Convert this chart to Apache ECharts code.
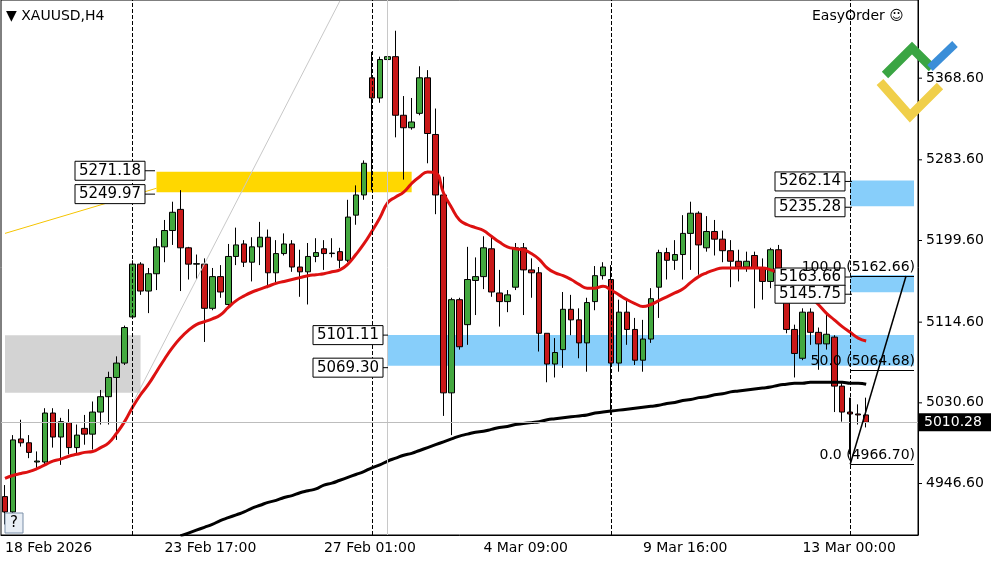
<!DOCTYPE html>
<html><head><meta charset="utf-8">
<script src="https://cdn.jsdelivr.net/npm/echarts@6/dist/echarts.min.js"></script>
<style>html,body{margin:0;padding:0;background:#fff}#c{width:1000px;height:562px}</style>
</head><body><div id="c"></div>
<script>
const opens=[4933,4917,4993,4989,4969,4969,5020,4995,5010,4984,5004,4998,5021,5037,5057,5072,5120,5175,5147,5165,5193,5210,5232,5192,5175,5175,5129,5162,5133,5183,5196,5177,5193,5203,5166,5186,5196,5172,5167,5183,5191,5186,5188,5179,5226,5247,5369,5348,5388,5391,5330,5317,5332,5369,5310,5247,5041,5138,5112,5158,5162,5191,5145,5136,5151,5192,5169,5166,5103,5071,5086,5128,5117,5093,5136,5163,5159,5072,5125,5107,5075,5097,5151,5187,5179,5185,5207,5228,5192,5209,5201,5189,5178,5172,5184,5171,5157,5190,5153,5107,5077,5125,5104,5092,5099,5048,5021,5019,5018];
const closes=[4917,4992,4989,4979,4970,5020,4995,5011,4984,4997,4998,5021,5037,5057,5072,5109,5175,5147,5165,5193,5210,5229,5192,5175,5175.5,5129,5162,5146,5183,5195,5177,5193,5203,5166,5186,5196,5172,5167,5183,5187,5186,5186.5,5179,5224,5247,5280,5348,5388,5391,5330,5317,5323,5369,5311,5247,5041,5138,5089,5159,5162,5192,5146,5136,5143,5192,5169,5166,5103,5071,5083,5128,5117,5093,5135,5163,5172,5072,5125,5107,5075,5097,5139,5187,5179,5185,5207,5228,5195,5209,5201,5189,5178,5172,5178,5171,5157,5190,5153,5107,5082,5125,5104,5092,5102,5048,5021,5019,5018,5010.28];
const highs=[4945,4997,5013,4997,4980,5025,5025,5015,5024,5008,5018,5032,5044,5063,5079,5111,5179,5177,5171,5202,5221,5240,5252,5193,5185,5181,5171,5174,5196,5213,5200,5203,5219,5211,5200,5207,5200,5190,5197,5202,5200,5202,5192,5242,5257,5283,5396,5391,5421,5418,5350,5348,5381,5377,5337,5266,5140,5140,5193,5182,5204,5204,5169,5148,5197,5197,5181,5172,5103,5098,5146,5143,5129,5140,5173,5177,5174,5138,5138,5119,5117,5150,5190,5192,5200,5226,5240,5230,5225,5221,5210,5200,5190,5188,5188,5181,5192,5195,5153,5112,5129,5129,5109,5122,5101,5051,5036,5029,5036];
const lows=[4904,4914,4985,4973,4961,4966,4984,4966,4977,4977,4987,4982,5008,5008,4992,5070,5119,5143,5124,5148,5177,5195,5147,5159,5159,5094,5127,5140,5129,5174,5172,5157,5174,5150,5156,5184,5167,5141,5133,5177,5169,5182,5171,5177,5216,5242,5252,5343,5379,5307,5263,5315,5330,5280,5227,5017,4997,5086,5091,5122,5149,5141,5110,5125,5148,5122,5140,5084,5052,5057,5067,5101,5077,5063,5127,5159,5018,5063,5091,5070,5063,5093,5119,5159,5169,5159,5169,5164,5188,5184,5177,5151,5157,5167,5129,5138,5150,5143,5103,5057,5075,5091,5065,5086,5021,5011,4977,5008,5005];
const emaRed=[4952,4955,4957,4959,4962,4966,4970,4972,4975,4977,4979,4980,4984,4989,4999,5011,5026,5039,5050,5063,5076,5088,5098,5106,5112,5115,5118,5122,5130,5137,5142,5146,5149,5152,5155,5157,5159,5161,5163,5164,5165,5167,5169,5175,5185,5196,5209,5223,5239,5245,5250,5259,5266,5271,5270,5249,5234,5221,5216,5213,5210,5204,5198,5193,5191,5190,5186,5180,5171,5166,5163,5159,5154,5150,5150,5152,5148,5143,5138,5134,5131,5133,5137,5141,5145,5149,5156,5162,5166,5169,5171,5171,5171,5171,5171,5171,5169,5166,5161,5154,5147,5141,5133,5124,5117,5110,5104,5098,5095];
const maBlackVis=[4892,4895,4898,4901,4904,4908,4911,4914,4917,4921,4924,4927,4929,4932,4934,4937,4939,4941,4945,4947,4950,4953,4956,4959,4963,4966,4970,4973,4976,4978,4981,4984,4987,4990,4993,4996,4998,5000,5001,5003,5005,5006,5008,5009,5010,5011,5013,5014,5015,5016,5017,5018,5020,5021,5022,5023,5024,5025,5026,5027,5028,5030,5031,5033,5034,5036,5037,5039,5040,5042,5043,5044,5045,5046,5047,5049,5050,5051,5051,5052,5052,5052,5052,5052,5051,5051,5050];
const maBlackStart=22;
const slotCount=115;
const tickLabelIdx=[0,20,40,60,80,100];
const tickLabelText=['18 Feb 2026','23 Feb 17:00','27 Feb 01:00','4 Mar 09:00','9 Mar 16:00','13 Mar 00:00'];
const yTicks=[5368.60,5283.60,5199.60,5114.60,5030.60,4946.60];
const lastPrice=5010.28;
const yellowZone=[5249.97,5271.18], grayZone=[5041,5101], blueZone1=[5069.30,5101.11], blueZone2=[5235.28,5262.14], blueZone3=[5145.75,5163.66];
const fibLow=4966.70, fibMid=5064.68, fibHigh=5162.66;

const cats=[];for(let i=0;i<slotCount;i++){const k=tickLabelIdx.indexOf(i);cats.push(k>=0?tickLabelText[k]:'');}
const candle=opens.map((o,i)=>[o,closes[i],lows[i],highs[i]]);
const black=new Array(slotCount).fill(null);maBlackVis.forEach((v,k)=>black[maBlackStart+k]=v);
const red=emaRed.slice();
const FONT='DejaVu Sans';
const chart=echarts.init(document.getElementById('c'));
const thin=(c,t,w)=>({lineStyle:{color:c,type:t,width:w}});
chart.setOption({
 animation:false,
 grid:{left:1,right:82,top:0,bottom:27,show:true,borderColor:'#000',borderWidth:1},
 xAxis:{type:'category',data:cats,boundaryGap:true,axisLine:{lineStyle:{color:'#000'}},axisTick:{show:false},
   axisLabel:{interval:0,align:'left',color:'#000',fontFamily:FONT,fontSize:14,margin:6,formatter:v=>v}},
 yAxis:{type:'value',position:'right',min:4893,max:5450,splitLine:{show:false},axisLine:{show:true,lineStyle:{color:'#000'}},axisLabel:{show:false},axisTick:{show:false}},
 series:[
  {type:'candlestick',data:candle,barWidth:6,itemStyle:{color:'#43a83f',color0:'#c81818',borderColor:'#000',borderColor0:'#000',borderWidth:1},
   markArea:{silent:true,data:[
     [{xAxis:19,yAxis:yellowZone[0],itemStyle:{color:'#ffd700',opacity:1}},{xAxis:51,yAxis:yellowZone[1]}],
     [{xAxis:0,yAxis:grayZone[0],itemStyle:{color:'#d3d3d3',opacity:1}},{xAxis:17,yAxis:grayZone[1]}],
     [{xAxis:48,yAxis:blueZone1[0],itemStyle:{color:'#87cefa',opacity:1}},{xAxis:114,yAxis:blueZone1[1]}],
     [{xAxis:106,yAxis:blueZone2[0],itemStyle:{color:'#87cefa',opacity:1}},{xAxis:114,yAxis:blueZone2[1]}],
     [{xAxis:106,yAxis:blueZone3[0],itemStyle:{color:'#87cefa',opacity:1}},{xAxis:114,yAxis:blueZone3[1]}]
   ]},z:3},
  {type:'line',data:red,showSymbol:false,smooth:true,lineStyle:{color:'#dd1111',width:3},z:4},
  {type:'line',data:black,showSymbol:false,smooth:true,lineStyle:{color:'#000',width:3},z:4,
   markLine:{silent:true,symbol:'none',label:{show:false},data:[
     {xAxis:16,...thin('#000','dashed',1)},{xAxis:46,...thin('#000','dashed',1)},{xAxis:76,...thin('#000','dashed',1)},{xAxis:106,...thin('#000','dashed',1)},
     {xAxis:48,...thin('#c8c8c8','solid',1)},
     {yAxis:lastPrice,...thin('#bdbdbd','solid',1)},
     [{coord:[16,5030],...thin('#c8c8c8','solid',1)},{coord:[42,5449]}],
     [{coord:[0,5207],...thin('#f5c400','solid',1)},{coord:[19,5254]}],
     [{coord:[106,fibLow],...thin('#000','solid',1.5)},{coord:[113,fibHigh]}],
     [{coord:[106,5036],...thin('#000','solid',1)},{coord:[106,fibLow]}],
     [{coord:[106,fibLow],...thin('#000','solid',1)},{coord:[114,fibLow]}],
     [{coord:[106,fibMid],...thin('#000','solid',1)},{coord:[114,fibMid]}],
     [{coord:[106,fibHigh],...thin('#000','solid',1)},{coord:[114,fibHigh]}]
   ]}}
 ]
});
const P=(i,p)=>chart.convertToPixel({gridIndex:0},[i,p]);
const g=[];
function box(text,rightX,cy,h,connectX){
  const w=70;
  g.push({type:'rect',shape:{x:rightX-w,y:cy-h/2,width:w,height:h},style:{fill:'#fff',stroke:'#000',lineWidth:1},z:50});
  g.push({type:'text',x:rightX-w/2,y:cy,style:{text:text,font:'15px "DejaVu Sans"',fill:'#000',align:'center',verticalAlign:'middle'},z:51});
  if(connectX) g.push({type:'line',shape:{x1:rightX,y1:cy,x2:connectX,y2:cy},style:{stroke:'#000'},z:50});
}
const xy=P(18,yellowZone[1])[1], xy2=P(18,yellowZone[0])[1];
box('5271.18',145,xy-1,19,155);box('5249.97',145,xy2+2,19,155);
box('5101.11',383,P(0,blueZone1[1])[1],19,388);box('5069.30',383,P(0,blueZone1[0])[1]+2,19,388);
box('5262.14',845,P(0,blueZone2[1])[1]+1,19,852);box('5235.28',845,P(0,blueZone2[0])[1]+1,19,852);
box('5163.66',845,P(0,blueZone3[1])[1]+2,18,852);box('5145.75',845,P(0,blueZone3[0])[1]+2,18,852);
[[100.0,fibHigh],[50.0,fibMid],[0.0,fibLow]].forEach(([lv,p])=>{
  const y=P(0,p)[1];
  g.push({type:'text',x:915,y:y-2,style:{text:lv.toFixed(1)+' ('+p.toFixed(2)+')',font:'14px "DejaVu Sans"',fill:'#000',align:'right',verticalAlign:'bottom'},z:52});
});
yTicks.forEach(v=>{const y=P(0,v)[1];
  g.push({type:'line',shape:{x1:918,y1:y,x2:922,y2:y},style:{stroke:'#000'}});
  g.push({type:'text',x:926,y:y,style:{text:v.toFixed(2),font:'14px "DejaVu Sans"',fill:'#000',verticalAlign:'middle'}});});
const ly=P(0,lastPrice)[1];
g.push({type:'rect',shape:{x:919,y:ly-9,width:72,height:18},style:{fill:'#000'},z:60});
g.push({type:'text',x:924,y:ly,style:{text:lastPrice.toFixed(2),font:'14px "DejaVu Sans"',fill:'#fff',verticalAlign:'middle'},z:61});
g.push({type:'text',x:6,y:16,style:{text:'▼ XAUUSD,H4',font:'14px "DejaVu Sans"',fill:'#000',verticalAlign:'middle'},z:60});
g.push({type:'text',x:812,y:16,style:{text:'EasyOrder ☺',font:'14px "DejaVu Sans"',fill:'#000',verticalAlign:'middle'},z:60});
g.push({type:'rect',shape:{x:5,y:513,width:18,height:20},style:{fill:'#e8eef5',stroke:'#7a8fa8'},z:60});
g.push({type:'text',x:14,y:523,style:{text:'?',font:'15px "DejaVu Sans"',fill:'#000',align:'center',verticalAlign:'middle'},z:61});
g.push({type:'polyline',shape:{points:[[885,75],[912,48],[932,68]]},style:{stroke:'#3aa543',lineWidth:9,fill:null},z:55});
g.push({type:'line',shape:{x1:930,y1:68,x2:955,y2:44},style:{stroke:'#3b8ed8',lineWidth:8},z:55});
g.push({type:'polyline',shape:{points:[[880,82],[910,116],[940,86]]},style:{stroke:'#f0cf4a',lineWidth:9,fill:null},z:55});
chart.setOption({graphic:g});
</script></body></html>
